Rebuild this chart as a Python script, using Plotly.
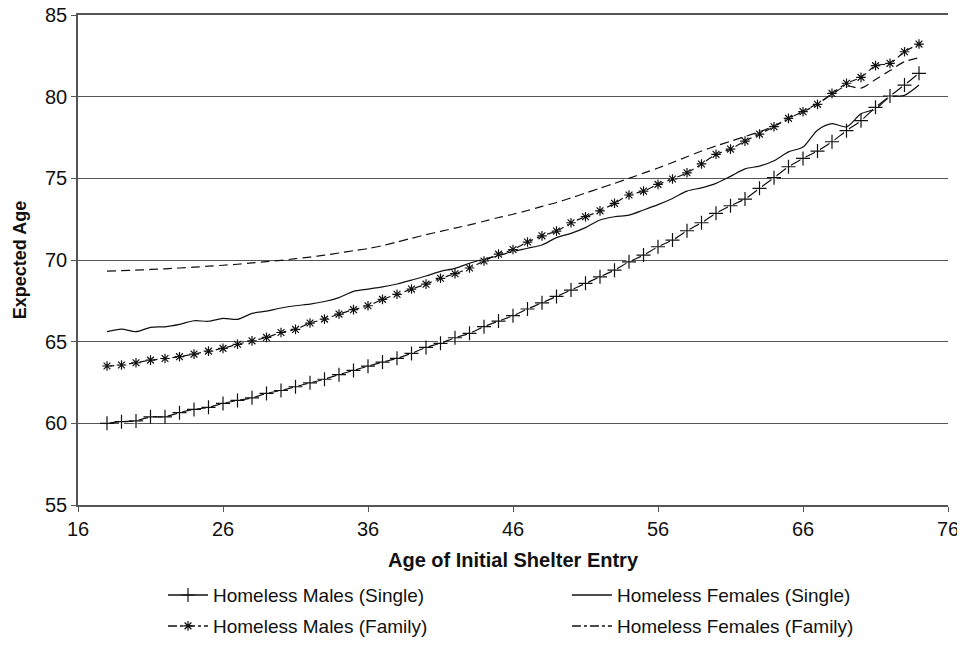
import plotly.graph_objects as go

ages = [18, 19, 20, 21, 22, 23, 24, 25, 26, 27, 28, 29, 30, 31, 32, 33, 34, 35, 36, 37,
        38, 39, 40, 41, 42, 43, 44, 45, 46, 47, 48, 49, 50, 51, 52, 53, 54, 55, 56, 57,
        58, 59, 60, 61, 62, 63, 64, 65, 66, 67, 68, 69, 70, 71, 72, 73, 74]

males_single = [60.0, 60.1, 60.15, 60.4, 60.4, 60.65, 60.85, 60.98, 61.22, 61.4,
                61.56, 61.83, 62.01, 62.24, 62.48, 62.7, 62.98, 63.24, 63.5, 63.75,
                63.98, 64.28, 64.65, 64.9, 65.24, 65.51, 65.92, 66.26, 66.59, 67.0,
                67.38, 67.77, 68.16, 68.57, 68.97, 69.38, 69.89, 70.3, 70.81, 71.22,
                71.79, 72.28, 72.86, 73.32, 73.73, 74.39, 75.04, 75.71, 76.22, 76.67,
                77.24, 77.92, 78.53, 79.35, 80.04, 80.71, 81.43]

females_single = [65.61, 65.77, 65.61, 65.88, 65.91, 66.06, 66.28, 66.25, 66.43, 66.37,
                  66.73, 66.87, 67.06, 67.2, 67.3, 67.46, 67.7, 68.08, 68.22, 68.36,
                  68.53, 68.77, 69.02, 69.3, 69.49, 69.8, 70.06, 70.26, 70.53, 70.72,
                  70.92, 71.37, 71.63, 71.98, 72.45, 72.65, 72.75, 73.06, 73.39, 73.77,
                  74.22, 74.42, 74.69, 75.12, 75.58, 75.75, 76.08, 76.62, 76.92, 77.95,
                  78.35, 78.15, 78.95, 79.25, 79.98, 80.08, 80.71]

males_family = [63.51, 63.57, 63.71, 63.87, 63.97, 64.08, 64.24, 64.42, 64.59, 64.84,
                65.05, 65.26, 65.56, 65.75, 66.14, 66.38, 66.69, 66.96, 67.2, 67.59,
                67.9, 68.22, 68.52, 68.88, 69.16, 69.51, 69.94, 70.36, 70.64, 71.1,
                71.48, 71.77, 72.28, 72.65, 73.01, 73.47, 73.98, 74.22, 74.63, 74.96,
                75.34, 75.88, 76.47, 76.79, 77.28, 77.71, 78.16, 78.67, 79.08, 79.53,
                80.2, 80.82, 81.18, 81.9, 82.04, 82.75, 83.22]

females_family = [69.32, 69.35, 69.38, 69.42, 69.46, 69.51, 69.56, 69.62, 69.68, 69.74,
                  69.82, 69.9, 69.98, 70.08, 70.18, 70.3, 70.43, 70.57, 70.7, 70.88,
                  71.1, 71.33, 71.55, 71.75, 71.95, 72.15, 72.37, 72.6, 72.8, 73.03,
                  73.28, 73.52, 73.8, 74.1, 74.4, 74.69, 75.0, 75.32, 75.63, 75.97,
                  76.32, 76.67, 76.98, 77.27, 77.56, 77.85, 78.2, 78.68, 79.1, 79.58,
                  80.15, 80.65, 80.52, 81.05, 81.6, 82.14, 82.38]

names = ["Homeless Males (Single)", "Homeless Females (Single)",
         "Homeless Males (Family)", "Homeless Females (Family)"]

INK = "#111111"
GRID = "#555555"
FONT = "Liberation Sans, Arial, sans-serif"
TICK_SIZE = 20
XTITLE_SIZE = 20
YTITLE_SIZE = 18
LEG_SIZE = 19

fig = go.Figure()

# Lines (no legend)
fig.add_trace(go.Scatter(x=ages, y=females_family, mode="lines", showlegend=False,
                         line=dict(color=INK, width=1.2, dash="9px,5px", shape="spline", smoothing=0.8),
                         hoverinfo="skip"))
fig.add_trace(go.Scatter(x=ages, y=females_single, mode="lines", showlegend=False,
                         line=dict(color=INK, width=1.2, shape="spline", smoothing=0.8),
                         hoverinfo="skip"))
fig.add_trace(go.Scatter(x=ages, y=males_family, mode="lines", showlegend=False,
                         line=dict(color=INK, width=1.2, dash="7px,4px", shape="spline", smoothing=0.8),
                         hoverinfo="skip"))
fig.add_trace(go.Scatter(x=ages, y=males_single, mode="lines", showlegend=False,
                         line=dict(color=INK, width=1.2, shape="spline", smoothing=0.6),
                         hoverinfo="skip"))

# white halo behind markers
for ys in (males_family, males_single):
    fig.add_trace(go.Scatter(x=ages, y=ys, mode="markers", showlegend=False,
                             marker=dict(symbol="square", size=5, color="white",
                                         line=dict(width=0)),
                             hoverinfo="skip"))

# markers
fig.add_trace(go.Scatter(x=ages, y=males_family, mode="markers", showlegend=False,
                         marker=dict(symbol="asterisk-open", size=8, color=INK,
                                     line=dict(color=INK, width=1.2))))
fig.add_trace(go.Scatter(x=ages, y=males_single, mode="markers", showlegend=False,
                         marker=dict(symbol="cross-thin-open", size=10, color=INK,
                                     line=dict(color=INK, width=1.2))))

# legend entries: one legend per entry for a 2x2 grid
leg_specs = [
    ("legend", 0.0977, -0.184),
    ("legend2", 0.562, -0.184),
    ("legend3", 0.0977, -0.247),
    ("legend4", 0.562, -0.247),
]
fig.add_trace(go.Scatter(x=[None], y=[None], mode="lines+markers", name=names[0],
                         legend="legend",
                         line=dict(color=INK, width=1.5),
                         marker=dict(symbol="cross-thin-open", size=10, color=INK,
                                     line=dict(color=INK, width=1.2))))
fig.add_trace(go.Scatter(x=[None], y=[None], mode="lines", name=names[1],
                         legend="legend2",
                         line=dict(color=INK, width=1.5)))
fig.add_trace(go.Scatter(x=[None], y=[None], mode="lines+markers", name=names[2],
                         legend="legend3",
                         line=dict(color=INK, width=1.5, dash="dashdot"),
                         marker=dict(symbol="asterisk-open", size=8, color=INK,
                                     line=dict(color=INK, width=1.2))))
fig.add_trace(go.Scatter(x=[None], y=[None], mode="lines", name=names[3],
                         legend="legend4",
                         line=dict(color=INK, width=1.5, dash="dashdot")))

leg_layout = {}
for key, lx, ly in leg_specs:
    leg_layout[key] = dict(orientation="h", xanchor="left", yanchor="middle",
                           x=lx, y=ly,
                           font=dict(family=FONT, size=LEG_SIZE, color=INK),
                           bgcolor="rgba(0,0,0,0)", itemwidth=40)

fig.update_layout(
    width=957, height=643,
    margin=dict(l=70, r=17, t=7, b=146, autoexpand=False),
    paper_bgcolor="white", plot_bgcolor="white",
    font=dict(family=FONT, size=LEG_SIZE, color=INK),
    xaxis=dict(range=[16, 76], tick0=16, dtick=10, showgrid=False, zeroline=False,
               showline=True, linecolor=GRID, linewidth=1.5, automargin=False,
               mirror=True,
               ticks="outside", ticklen=5, tickcolor=GRID, tickwidth=1.2,
               ticklabeloverflow="allow", ticklabelstandoff=0,
               tickfont=dict(family=FONT, size=TICK_SIZE, color=INK),
               title=dict(text="<b>Age of Initial Shelter Entry</b>", standoff=14,
                          font=dict(family=FONT, size=XTITLE_SIZE, color=INK))),
    yaxis=dict(range=[55, 85], tick0=55, dtick=5, showgrid=True, gridcolor=GRID,
               gridwidth=1.2, zeroline=False, automargin=False,
               showline=True, linecolor=GRID, linewidth=1.5,
               ticks="outside", ticklen=5, tickcolor=GRID, tickwidth=1.2,
               ticklabeloverflow="allow",
               tickfont=dict(family=FONT, size=TICK_SIZE, color=INK),
               title=dict(text="<b>Expected Age</b>", standoff=14,
                          font=dict(family=FONT, size=YTITLE_SIZE, color=INK))),
    **leg_layout,
)

fig.write_html("out.html")
